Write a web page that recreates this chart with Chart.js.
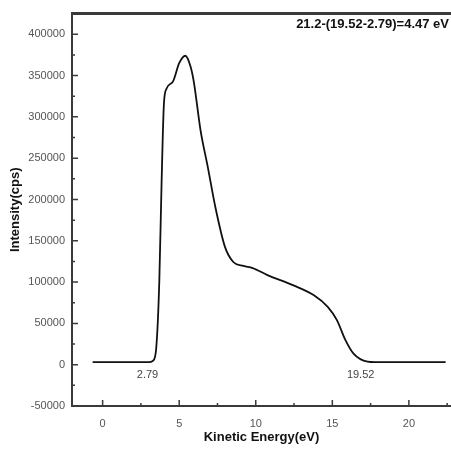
<!DOCTYPE html>
<html>
<head>
<meta charset="utf-8">
<script src="https://cdn.jsdelivr.net/npm/chart.js@4.4.1/dist/chart.umd.min.js"></script>
<style>
  html, body { margin: 0; padding: 0; background: #fff; }
  #wrap { width: 451px; height: 449px; position: relative; }
</style>
</head>
<body>
<div id="wrap"><canvas id="upsChart"></canvas></div>
<script>
// ── Data ──────────────────────────────────────────────────────────────────────
const energy = [
  -0.65, 0, 1, 2, 3, 3.3, 3.5, 3.7, 3.85, 4.0, 4.17, 4.6, 5.0, 5.4, 5.74,
  5.95, 6.4, 6.85, 7.37, 8.0, 8.55, 9.2, 9.8, 10.76, 12.46, 13.8, 14.7, 15.3,
  15.85, 16.4, 17.3, 17.8, 22.4
];
const intensity = [
  3000, 3000, 3000, 3000, 3000, 5000, 20000, 100000, 220000, 315000, 334000,
  343000, 365000, 374000, 361000, 343000, 283000, 241000, 190000, 142000,
  124000, 119500, 117000, 108500, 96000, 84000, 70000, 54000, 30000, 13000,
  3600, 3000, 3000
];

const xTicks = [0, 5, 10, 15, 20];
const xMinor = [2.5, 7.5, 12.5, 17.5, 22.5];
const yTicks = [-50000, 0, 50000, 100000, 150000, 200000, 250000, 300000, 350000, 400000];
const yMinor = [-25000, 25000, 75000, 125000, 175000, 225000, 275000, 325000, 375000];

const noteText = ['2.79', '19.52'];
const noteX = [2.93, 16.85];
const noteY = [-13000, -13000];
const formula = '21.2-(19.52-2.79)=4.47 eV';

// ── Frame, inward ticks, notes ────────────────────────────────────────────────
const framePlugin = {
  id: 'frame',
  afterDraw(chart) {
    const { ctx, chartArea: a, scales: { x, y } } = chart;
    ctx.save();
    ctx.strokeStyle = '#3a3a3a';
    ctx.lineWidth = 3;
    ctx.beginPath();
    ctx.moveTo(a.left - 1, a.top);
    ctx.lineTo(chart.width, a.top);
    ctx.stroke();

    ctx.lineWidth = 1.5;
    ctx.beginPath();
    xTicks.forEach(v => { const p = x.getPixelForValue(v); ctx.moveTo(p, a.bottom); ctx.lineTo(p, a.bottom - 6); });
    xMinor.forEach(v => { const p = x.getPixelForValue(v); ctx.moveTo(p, a.bottom); ctx.lineTo(p, a.bottom - 3); });
    yTicks.forEach(v => { const p = y.getPixelForValue(v); ctx.moveTo(a.left, p); ctx.lineTo(a.left + 6, p); });
    yMinor.forEach(v => { const p = y.getPixelForValue(v); ctx.moveTo(a.left, p); ctx.lineTo(a.left + 3, p); });
    ctx.stroke();

    ctx.fillStyle = '#444';
    ctx.font = '11px "Liberation Sans", Arial, sans-serif';
    ctx.textAlign = 'center';
    ctx.textBaseline = 'middle';
    noteText.forEach((t, i) => ctx.fillText(t, x.getPixelForValue(noteX[i]), y.getPixelForValue(noteY[i])));

    ctx.fillStyle = '#111';
    ctx.font = 'bold 13px "Liberation Sans", Arial, sans-serif';
    ctx.textAlign = 'right';
    ctx.fillText(formula, chart.width - 2, a.top + 11);
    ctx.restore();
  }
};

// ── Chart ─────────────────────────────────────────────────────────────────────
new Chart(document.getElementById('upsChart'), {
  type: 'scatter',
  data: {
    datasets: [{
      data: energy.map((e, i) => ({ x: e, y: intensity[i] })),
      showLine: true,
      borderColor: '#111',
      borderWidth: 1.8,
      pointRadius: 0,
      cubicInterpolationMode: 'monotone',
      fill: false
    }]
  },
  options: {
    responsive: true,
    maintainAspectRatio: false,
    animation: false,
    layout: { padding: { top: 6, right: 0, bottom: 0, left: 0 } },
    plugins: { legend: { display: false }, tooltip: { enabled: false } },
    scales: {
      x: {
        type: 'linear',
        min: -2,
        max: 22.75,
        afterBuildTicks: s => { s.ticks = xTicks.map(v => ({ value: v })); },
        afterFit: s => { s.height = 43; },
        grid: { display: false, drawTicks: false },
        border: { color: '#3a3a3a', width: 2 },
        ticks: { padding: 11, color: '#555', font: { family: '"Liberation Sans", Arial', size: 11 },
                 callback: v => String(v) },
        title: {
          display: true, text: 'Kinetic Energy(eV)', color: '#111',
          font: { family: '"Liberation Sans", Arial', size: 13, weight: 'bold' },
          padding: { top: 0, bottom: 4 }
        }
      },
      y: {
        type: 'linear',
        min: -50000,
        max: 425000,
        afterBuildTicks: s => { s.ticks = yTicks.map(v => ({ value: v })); },
        afterFit: s => { s.width = 72; },
        grid: { display: false, drawTicks: false },
        border: { color: '#3a3a3a', width: 2 },
        ticks: { padding: 7, color: '#555', font: { family: '"Liberation Sans", Arial', size: 11 },
                 callback: v => String(v) },
        title: {
          display: true, text: 'Intensity(cps)', color: '#111',
          font: { family: '"Liberation Sans", Arial', size: 13, weight: 'bold' },
          padding: { top: 8, bottom: 4 }
        }
      }
    }
  },
  plugins: [framePlugin]
});
</script>
</body>
</html>
